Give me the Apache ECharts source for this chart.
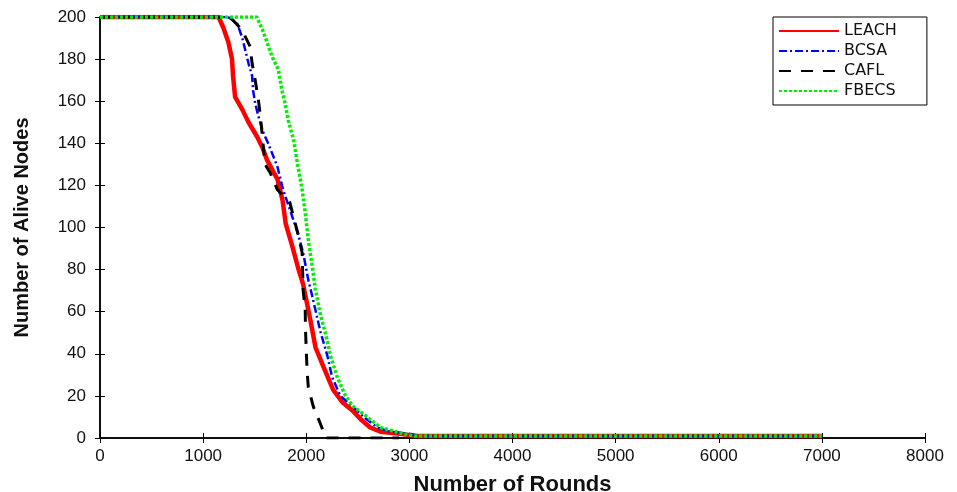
<!DOCTYPE html>
<html>
<head>
<meta charset="utf-8">
<script src="https://cdn.jsdelivr.net/npm/echarts@6/dist/echarts.min.js"></script>
<style>
  html, body { margin: 0; padding: 0; background: #fff; }
  #main { width: 957px; height: 492px; }
</style>
</head>
<body>
<div id="main"></div>
<script>
// Données
const leachRounds = [0, 1150, 1195, 1245, 1280, 1290, 1310, 1380, 1440, 1525, 1575, 1620, 1720, 1770, 1800, 1865, 1920, 1970, 2040, 2090, 2165, 2260, 2350, 2450, 2525, 2620, 2720, 2910, 3050, 7000];
const leachAlive  = [200, 200, 195, 188, 180, 172, 162, 156, 150, 143, 138, 132, 123, 113, 102, 91, 81, 73, 56, 43, 34, 23, 17, 13, 9, 5, 3, 2, 1, 1];

const bcsaRounds = [0, 1240, 1330, 1380, 1410, 1440, 1475, 1485, 1505, 1535, 1585, 1630, 1720, 1775, 1845, 1920, 1970, 2020, 2060, 2135, 2205, 2250, 2330, 2450, 2555, 2690, 2815, 3000, 3100, 7000];
const bcsaAlive  = [200, 200, 197, 190, 184, 178, 172, 165, 159, 153, 145, 140, 129, 118, 108, 97, 88, 75, 67, 51, 39, 29, 20, 15, 10, 5, 3, 2, 1, 1];

const caflRounds = [0, 1260, 1375, 1455, 1475, 1505, 1535, 1555, 1575, 1600, 1650, 1720, 1780, 1840, 1920, 1960, 1970, 1990, 1993, 2000, 2008, 2020, 2068, 2135, 2190, 2900];
const caflAlive  = [200, 200, 194, 186, 178, 170, 161, 153, 143, 130, 126, 118, 115, 112, 97, 88, 70, 61, 51, 42, 32, 24, 15, 7, 0, 0];

const fbecsRounds = [0, 1520, 1575, 1620, 1670, 1730, 1765, 1795, 1825, 1875, 1920, 1960, 1990, 2020, 2060, 2087, 2135, 2185, 2235, 2300, 2380, 2455, 2590, 2720, 2940, 3050, 7000];
const fbecsAlive  = [200, 200, 194, 188, 181, 175, 165, 159, 151, 142, 129, 118, 107, 94, 81, 71, 59, 50, 39, 29, 20, 15, 10, 5, 2, 1, 1];

const xTicks = [0, 1000, 2000, 3000, 4000, 5000, 6000, 7000, 8000];
const yTicks = [0, 20, 40, 60, 80, 100, 120, 140, 160, 180, 200];

function pairs(xs, ys) {
    return xs.map((x, i) => [x, ys[i]]);
}

const chart = echarts.init(document.getElementById('main'), null, { renderer: 'canvas' });

const tickFont = { fontFamily: 'Liberation Sans, Arial, sans-serif', fontSize: 17, color: '#111' };

const option = {
    animation: false,
    backgroundColor: '#fff',
    grid: { left: 100, right: 32, top: 17, bottom: 54, containLabel: false, outerBoundsMode: 'none' },
    legend: {
        orient: 'vertical',
        left: 773,
        top: 17,
        padding: [6, 30, 6, 5],
        itemGap: 4,
        itemWidth: 60,
        itemHeight: 14,
        borderColor: '#000',
        borderWidth: 1,
        borderRadius: 0,
        backgroundColor: '#fff',
        itemStyle: { opacity: 0 },
        textStyle: { fontFamily: 'DejaVu Sans, Arial, sans-serif', fontSize: 16, color: '#111' },
        data: ['LEACH', 'BCSA', 'CAFL', 'FBECS']
    },
    xAxis: [
        {
            type: 'value',
            min: xTicks[0],
            max: xTicks[xTicks.length - 1],
            interval: 1000,
            name: 'Number of Rounds',
            nameLocation: 'middle',
            nameGap: 36,
            nameTextStyle: { fontFamily: 'Liberation Sans, Arial, sans-serif', fontSize: 22, fontWeight: 'bold', color: '#111' },
            axisLine: { onZero: false, lineStyle: { color: '#000', width: 1.5 } },
            axisTick: { inside: true, length: 5, lineStyle: { color: '#000' } },
            axisLabel: Object.assign({ margin: 10, formatter: v => String(v) }, tickFont),
            splitLine: { show: false }
        },
        {
            type: 'value',
            position: 'top',
            min: xTicks[0],
            max: xTicks[xTicks.length - 1],
            interval: 1000,
            axisLine: { lineStyle: { color: '#000', width: 1.5 } },
            axisTick: { inside: true, length: 5, lineStyle: { color: '#000' } },
            axisLabel: { show: false },
            splitLine: { show: false }
        }
    ],
    yAxis: [
        {
            type: 'value',
            min: yTicks[0],
            max: yTicks[yTicks.length - 1],
            interval: 20,
            name: 'Number of Alive Nodes',
            nameLocation: 'middle',
            nameGap: 68,
            nameTextStyle: { fontFamily: 'Liberation Sans Narrow, Arial Narrow, sans-serif', fontSize: 20, fontWeight: 'bold', color: '#111' },
            axisLine: { show: true, onZero: false, lineStyle: { color: '#000', width: 1.5 } },
            axisTick: { show: true, inside: true, length: 5, lineStyle: { color: '#000' } },
            axisLabel: Object.assign({ margin: 14 }, tickFont),
            splitLine: { show: false }
        },
        {
            type: 'value',
            position: 'right',
            min: yTicks[0],
            max: yTicks[yTicks.length - 1],
            interval: 20,
            axisLine: { show: true, lineStyle: { color: '#000', width: 1.5 } },
            axisTick: { show: true, inside: true, length: 5, lineStyle: { color: '#000' } },
            axisLabel: { show: false },
            splitLine: { show: false }
        }
    ],
    series: [
        {
            name: 'LEACH',
            type: 'line',
            symbol: 'none',
            color: '#ff0000',
            lineStyle: { color: '#ff0000', width: 4.5 },
            data: pairs(leachRounds, leachAlive)
        },
        {
            name: 'BCSA',
            type: 'line',
            symbol: 'none',
            color: '#0000ff',
            lineStyle: { color: '#0000ff', width: 2.5, type: [8, 3, 2, 3] },
            data: pairs(bcsaRounds, bcsaAlive)
        },
        {
            name: 'CAFL',
            type: 'line',
            symbol: 'none',
            color: '#000000',
            lineStyle: { color: '#000000', width: 3, type: [12, 10] },
            data: pairs(caflRounds, caflAlive)
        },
        {
            name: 'FBECS',
            type: 'line',
            symbol: 'none',
            color: '#00ee00',
            lineStyle: { color: '#00ee00', width: 3.5, type: [3, 2] },
            data: pairs(fbecsRounds, fbecsAlive)
        }
    ]
};

chart.setOption(option);

window.addEventListener('resize', () => {
    chart.resize();
});
</script>
</body>
</html>
